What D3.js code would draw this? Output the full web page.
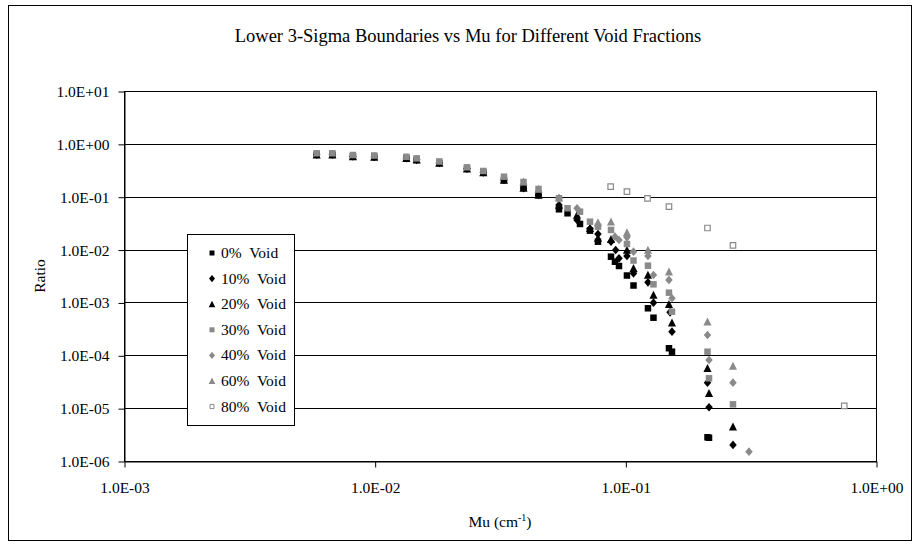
<!DOCTYPE html>
<html>
<head>
<meta charset="utf-8">
<script src="https://cdn.jsdelivr.net/npm/d3@7/dist/d3.min.js"></script>
<style>
  body { margin: 0; background: #fff; }
  svg, svg text { font-family: "Liberation Serif", "Times New Roman", Times, "DejaVu Serif", serif; }
</style>
</head>
<body>
<div id="chart"></div>
<script>
// Series data (Mu in cm^-1, ratio)
var seriesNames = ["0%  Void", "10%  Void", "20%  Void", "30%  Void", "40%  Void", "60%  Void", "80%  Void"];

var mu0 = [0.00587, 0.00678, 0.00819, 0.00996, 0.01338, 0.01472, 0.0181, 0.02335, 0.02713, 0.0328, 0.03925, 0.04504, 0.05437, 0.0588, 0.06594, 0.07228, 0.07777, 0.08766, 0.09093, 0.09434, 0.1015, 0.1078, 0.1231, 0.1295, 0.1493, 0.1535, 0.2127, 0.2157];
var ratio0 = [0.625, 0.625, 0.578, 0.566, 0.535, 0.499, 0.436, 0.338, 0.288, 0.207, 0.148, 0.110, 0.0578, 0.0486, 0.0305, 0.0228, 0.0141, 0.00733, 0.00589, 0.00489, 0.00323, 0.00209, 0.000775, 0.000514, 0.000136, 0.000117, 0.00000281, 0.00000275];

var mu10 = [0.00587, 0.00678, 0.00819, 0.00996, 0.01338, 0.01472, 0.0181, 0.02335, 0.02713, 0.0328, 0.03925, 0.04504, 0.05437, 0.06416, 0.07228, 0.07777, 0.08766, 0.0915, 0.09434, 0.1015, 0.1078, 0.1231, 0.1295, 0.1508, 0.1535, 0.2127, 0.2157, 0.2688];
var ratio10 = [0.625, 0.625, 0.578, 0.566, 0.535, 0.499, 0.436, 0.338, 0.288, 0.207, 0.146, 0.108, 0.0697, 0.0363, 0.0249, 0.0197, 0.0141, 0.00982, 0.00684, 0.00756, 0.00356, 0.0024, 0.000989, 0.000651, 0.00028, 0.0000303, 0.0000104, 0.00000201];

var mu20 = [0.00587, 0.00678, 0.00819, 0.00996, 0.01338, 0.01472, 0.0181, 0.02335, 0.02713, 0.0328, 0.03925, 0.04504, 0.05437, 0.06416, 0.07228, 0.07777, 0.08766, 0.1015, 0.1078, 0.1231, 0.1295, 0.1493, 0.1535, 0.2127, 0.2157, 0.2688];
var ratio20 = [0.625, 0.625, 0.578, 0.566, 0.535, 0.499, 0.436, 0.338, 0.288, 0.207, 0.146, 0.108, 0.0697, 0.0451, 0.0253, 0.0166, 0.0157, 0.00982, 0.00442, 0.0033, 0.00138, 0.000922, 0.000414, 0.0000568, 0.0000191, 0.00000446];

var mu30 = [0.00587, 0.00678, 0.00819, 0.00996, 0.01338, 0.01472, 0.0181, 0.02335, 0.02713, 0.0328, 0.03925, 0.04504, 0.05437, 0.0588, 0.06594, 0.07228, 0.07777, 0.08766, 0.1015, 0.1078, 0.1231, 0.1295, 0.1493, 0.1535, 0.2127, 0.2157, 0.2688];
var ratio30 = [0.663, 0.663, 0.615, 0.602, 0.569, 0.531, 0.464, 0.360, 0.307, 0.239, 0.190, 0.140, 0.0934, 0.0604, 0.0521, 0.0337, 0.0271, 0.0235, 0.01275, 0.0062, 0.00496, 0.0022, 0.00153, 0.000668, 0.000117, 0.0000367, 0.0000118];

var mu40 = [0.05437, 0.06416, 0.09093, 0.09434, 0.1015, 0.1078, 0.1231, 0.1295, 0.1493, 0.1535, 0.2127, 0.2157, 0.2688, 0.3114];
var ratio40 = [0.0934, 0.0604, 0.01753, 0.01518, 0.01707, 0.00912, 0.00756, 0.0033, 0.00266, 0.0012, 0.000242, 0.0000815, 0.0000303, 0.0000015];

var mu60 = [0.03925, 0.04504, 0.05437, 0.07777, 0.08766, 0.1015, 0.1231, 0.1493, 0.2127, 0.2688];
var ratio60 = [0.192, 0.140, 0.0958, 0.0325, 0.0337, 0.0211, 0.00982, 0.00382, 0.000432, 0.0000627];

var mu80 = [0.0874, 0.1015, 0.1226, 0.1493, 0.2127, 0.2688, 0.7471];
var ratio80 = [0.1547, 0.1245, 0.0934, 0.0648, 0.0256, 0.0120, 0.0000110];

var xTickValues = [0.001, 0.01, 0.1, 1];
var xTickLabels = ["1.0E-03", "1.0E-02", "1.0E-01", "1.0E+00"];
var yTickValues = [1e-6, 1e-5, 1e-4, 1e-3, 1e-2, 1e-1, 1, 10];
var yTickLabels = ["1.0E-06", "1.0E-05", "1.0E-04", "1.0E-03", "1.0E-02", "1.0E-01", "1.0E+00", "1.0E+01"];

var W = 920, H = 544;
var plot = { left: 124, right: 876, top: 91, bottom: 461 };
var serif = '"Liberation Serif", "Times New Roman", Times, "DejaVu Serif", serif';

var black = "#000000", gray = "#8a8a8a";

// marker shapes: square, diamond, triangle
function markerPath(shape, s) {
    var h = s / 2;
    if (shape === "square") return "M" + (-h) + "," + (-h) + "h" + s + "v" + s + "h" + (-s) + "Z";
    if (shape === "diamond") return "M0," + (-h - 0.6) + "L" + h + ",0L0," + (h + 0.6) + "L" + (-h) + ",0Z";
    if (shape === "triangle") return "M0," + (-h - 0.5) + "L" + (h + 0.3) + "," + (h) + "L" + (-h - 0.3) + "," + (h) + "Z";
    return "";
}

var series = [
    { name: seriesNames[0], mu: mu0, ratio: ratio0, shape: "square", fill: black, stroke: "none", size: 6.5 },
    { name: seriesNames[1], mu: mu10, ratio: ratio10, shape: "diamond", fill: black, stroke: "none", size: 7.5 },
    { name: seriesNames[2], mu: mu20, ratio: ratio20, shape: "triangle", fill: black, stroke: "none", size: 7.5 },
    { name: seriesNames[3], mu: mu30, ratio: ratio30, shape: "square", fill: gray, stroke: "none", size: 6.5 },
    { name: seriesNames[4], mu: mu40, ratio: ratio40, shape: "diamond", fill: gray, stroke: "none", size: 7.5 },
    { name: seriesNames[5], mu: mu60, ratio: ratio60, shape: "triangle", fill: gray, stroke: "none", size: 7.5 },
    { name: seriesNames[6], mu: mu80, ratio: ratio80, shape: "square", fill: "#ffffff", stroke: gray, size: 5.5 }
];

var svg = d3.select("#chart").append("svg")
    .attr("width", W)
    .attr("height", H)
    .attr("font-family", serif);

svg.append("rect")
    .attr("x", 0).attr("y", 0).attr("width", W).attr("height", H)
    .style("fill", "#fff");

// chart frame
svg.append("rect")
    .attr("x", 8.5).attr("y", 5.5)
    .attr("width", 903).attr("height", 535)
    .style("fill", "none").style("stroke", "#000").style("stroke-width", 1);

var x = d3.scaleLog().domain([1e-3, 1]).range([plot.left, plot.right]);
var y = d3.scaleLog().domain([1e-6, 10]).range([plot.bottom, plot.top]);

// gridlines
svg.append("g").selectAll("line")
    .data(yTickValues)
    .enter().append("line")
    .attr("x1", plot.left).attr("x2", plot.right)
    .attr("y1", function (d) { return Math.round(y(d)) + 0.5; })
    .attr("y2", function (d) { return Math.round(y(d)) + 0.5; })
    .style("stroke", "#000").style("stroke-width", 1);

// plot border
svg.append("rect")
    .attr("x", plot.left + 0.5).attr("y", plot.top + 0.5)
    .attr("width", plot.right - plot.left).attr("height", plot.bottom - plot.top)
    .style("fill", "none").style("stroke", "#000").style("stroke-width", 1);

// axes
var yAxis = d3.axisLeft(y)
    .tickValues(yTickValues)
    .tickFormat(function (d, i) { return yTickLabels[i]; })
    .tickSize(6).tickSizeOuter(0).tickPadding(9);
var gy = svg.append("g")
    .attr("transform", "translate(" + (plot.left + 0.5) + ",0.5)")
    .call(yAxis);

var xAxis = d3.axisBottom(x)
    .tickValues(xTickValues)
    .tickFormat(function (d, i) { return xTickLabels[i]; })
    .tickSize(6).tickSizeOuter(0).tickPadding(14);
var gx = svg.append("g")
    .attr("transform", "translate(0.5," + (plot.bottom + 0.5) + ")")
    .call(xAxis);

[gx, gy].forEach(function (g) {
    g.attr("font-family", serif).attr("font-size", 15.5);
    g.select(".domain").style("stroke", "#000");
    g.selectAll(".tick line").style("stroke", "#000");
    g.selectAll(".tick text")
        .style("font-family", serif)
        .style("font-size", "15.5px")
        .style("fill", "#000");
});

// points
series.forEach(function (s) {
    svg.append("g").selectAll("path")
        .data(s.mu.map(function (m, i) { return [m, s.ratio[i]]; }))
        .enter().append("path")
        .attr("d", markerPath(s.shape, s.size))
        .attr("transform", function (d) { return "translate(" + x(d[0]) + "," + y(d[1]) + ")"; })
        .style("fill", s.fill)
        .style("stroke", s.stroke)
        .style("stroke-width", 1.2);
});

// legend
var legend = svg.append("g");
legend.append("rect")
    .attr("x", 187.5).attr("y", 234.5)
    .attr("width", 107).attr("height", 191)
    .style("fill", "#fff").style("stroke", "#000").style("stroke-width", 1);

series.forEach(function (s, i) {
    var ly = 253 + i * 25.6;
    legend.append("path")
        .attr("d", markerPath(s.shape, s.size - 1.5))
        .attr("transform", "translate(212," + ly + ")")
        .style("fill", s.fill)
        .style("stroke", s.stroke)
        .style("stroke-width", 1);
    legend.append("text")
        .attr("x", 221).attr("y", ly + 5)
        .style("font-family", serif)
        .style("font-size", "15.5px")
        .style("white-space", "pre")
        .text(s.name);
});

// titles
svg.append("text")
    .attr("x", 468).attr("y", 42)
    .style("text-anchor", "middle")
    .style("font-family", serif)
    .style("font-size", "18.5px")
    .text("Lower 3-Sigma Boundaries vs Mu for Different Void Fractions");

svg.append("text")
    .attr("transform", "translate(45," + ((plot.top + plot.bottom) / 2) + ") rotate(-90)")
    .style("text-anchor", "middle")
    .style("font-family", serif)
    .style("font-size", "15.5px")
    .text("Ratio");

var xt = svg.append("text")
    .attr("x", (plot.left + plot.right) / 2).attr("y", 527)
    .style("text-anchor", "middle")
    .style("font-family", serif)
    .style("font-size", "15.5px");
xt.append("tspan").text("Mu (cm");
xt.append("tspan").attr("dy", -6).style("font-size", "10px").text("-1");
xt.append("tspan").attr("dy", 6).text(")");
</script>
</body>
</html>
